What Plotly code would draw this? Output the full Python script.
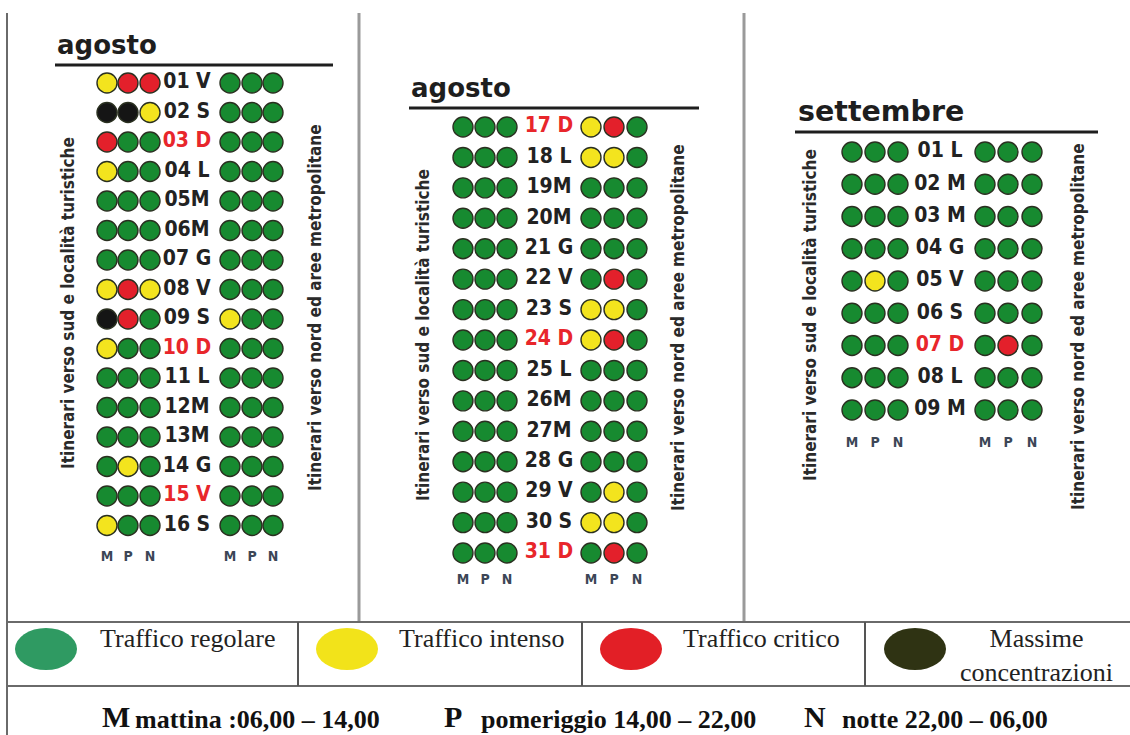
import plotly.graph_objects as go

# ---------------- DATA ----------------
# status codes: R = regolare, I = intenso, C = critico, X = massime concentrazioni
# each string = M, P, N (mattina, pomeriggio, notte)
aug1_labels = ["01 V", "02 S", "03 D", "04 L", "05M", "06M", "07 G", "08 V",
               "09 S", "10 D", "11 L", "12M", "13M", "14 G", "15 V", "16 S"]
aug1_south = ["ICC", "XXI", "CRR", "IRR", "RRR", "RRR", "RRR", "ICI",
              "XCR", "IRR", "RRR", "RRR", "RRR", "RIR", "RRR", "IRR"]
aug1_north = ["RRR", "RRR", "RRR", "RRR", "RRR", "RRR", "RRR", "RRR",
              "IRR", "RRR", "RRR", "RRR", "RRR", "RRR", "RRR", "RRR"]
aug1_holiday = [0, 0, 1, 0, 0, 0, 0, 0, 0, 1, 0, 0, 0, 0, 1, 0]

aug2_labels = ["17 D", "18 L", "19M", "20M", "21 G", "22 V", "23 S", "24 D",
               "25 L", "26M", "27M", "28 G", "29 V", "30 S", "31 D"]
aug2_south = ["RRR"] * 15
aug2_north = ["ICR", "IIR", "RRR", "RRR", "RRR", "RCR", "IIR", "ICR",
              "RRR", "RRR", "RRR", "RRR", "RIR", "IIR", "RCR"]
aug2_holiday = [1, 0, 0, 0, 0, 0, 0, 1, 0, 0, 0, 0, 0, 0, 1]

sep_labels = ["01 L", "02 M", "03 M", "04 G", "05 V", "06 S", "07 D", "08 L", "09 M"]
sep_south = ["RRR", "RRR", "RRR", "RRR", "RIR", "RRR", "RRR", "RRR", "RRR"]
sep_north = ["RRR", "RRR", "RRR", "RRR", "RRR", "RRR", "RCR", "RRR", "RRR"]
sep_holiday = [0, 0, 0, 0, 0, 0, 1, 0, 0]

month_titles = ["agosto", "agosto", "settembre"]
periods = ["M", "P", "N"]
south_text = "Itinerari verso sud e località turistiche"
north_text = "Itinerari verso nord ed aree metropolitane"

legend_codes = ["R", "I", "C", "X"]
legend_labels = ["Traffico regolare", "Traffico intenso", "Traffico critico",
                 "Massime<br>concentrazioni"]
period_desc = ["mattina :06,00 – 14,00", "pomeriggio 14,00 – 22,00", "notte 22,00 – 06,00"]

# ---------------- STYLE ----------------
dot_colors = {"R": "#178a30", "I": "#f3e41e", "C": "#e3202b", "X": "#151515"}
legend_colors = {"R": "#2f9a62", "I": "#f2e31a", "C": "#e21f26", "X": "#2f3313"}
COND = "DejaVu Sans Condensed, Liberation Sans Narrow, Arial Narrow, sans-serif"
SERIF = "Liberation Serif, Times New Roman, serif"
DARK = "#222222"
RED = "#e8262b"

panels = [
    dict(labels=aug1_labels, south=aug1_south, north=aug1_north, hol=aug1_holiday,
         sx=[107, 128, 150], lx=187, nx=[230, 252, 273], y0=83, dy=29.5, mpn_y=557,
         tx=55, ty=45, tsize=26, ul=(55, 333, 65), vl=(68, 303), vr=(315, 308)),
    dict(labels=aug2_labels, south=aug2_south, north=aug2_north, hol=aug2_holiday,
         sx=[463, 485, 507], lx=549, nx=[591, 614, 637], y0=127, dy=30.43, mpn_y=580,
         tx=409, ty=88, tsize=26, ul=(409, 699, 108), vl=(423, 335), vr=(678, 328)),
    dict(labels=sep_labels, south=sep_south, north=sep_north, hol=sep_holiday,
         sx=[852, 875, 898], lx=940, nx=[985, 1008, 1032], y0=152, dy=32.25, mpn_y=443,
         tx=796, ty=111, tsize=28.5, ul=(795, 1098, 132), vl=(810, 315), vr=(1078, 327)),
]

fig = go.Figure()
annotations = []
shapes = []

for p, title in zip(panels, month_titles):
    xs, ys, cs = [], [], []
    for i, (s, n) in enumerate(zip(p["south"], p["north"])):
        y = p["y0"] + i * p["dy"]
        for k in range(3):
            xs.append(p["sx"][k]); ys.append(y); cs.append(dot_colors[s[k]])
            xs.append(p["nx"][k]); ys.append(y); cs.append(dot_colors[n[k]])
    fig.add_trace(go.Scatter(
        x=xs, y=ys, mode="markers", hoverinfo="skip", showlegend=False,
        marker=dict(size=20, color=cs, line=dict(color="#2a3020", width=1.4))))
    # day labels
    ly = [p["y0"] + i * p["dy"] for i in range(len(p["labels"]))]
    fig.add_trace(go.Scatter(
        x=[p["lx"]] * len(ly), y=ly, mode="text", text=p["labels"],
        textposition="middle center", hoverinfo="skip", showlegend=False,
        textfont=dict(family=COND, size=21, weight="bold",
                      color=[RED if h else DARK for h in p["hol"]])))
    # M P N
    fig.add_trace(go.Scatter(
        x=p["sx"] + p["nx"], y=[p["mpn_y"]] * 6, mode="text", text=periods * 2,
        textposition="middle center", hoverinfo="skip", showlegend=False,
        textfont=dict(family=COND, size=14, weight="bold", color="#3c4656")))
    # title
    annotations.append(dict(x=p["tx"], y=p["ty"], text="<b>" + title + "</b>", showarrow=False,
                            xanchor="left", yanchor="middle",
                            font=dict(family="DejaVu Sans, sans-serif", size=p["tsize"], color="#1e1e1e")))
    x0, x1, yu = p["ul"]
    shapes.append(dict(type="line", x0=x0, x1=x1, y0=yu, y1=yu,
                       line=dict(color="#1e1e1e", width=3)))
    annotations.append(dict(x=p["vl"][0], y=p["vl"][1], text=south_text, textangle=-90,
                            showarrow=False, xanchor="center", yanchor="middle",
                            font=dict(family=COND, size=17, weight="bold", color="#2a2a2a")))
    annotations.append(dict(x=p["vr"][0], y=p["vr"][1], text=north_text, textangle=-90,
                            showarrow=False, xanchor="center", yanchor="middle",
                            font=dict(family=COND, size=17, weight="bold", color="#2a2a2a")))

# frame lines
frame = "#6a6a6a"
shapes += [
    dict(type="line", x0=7, x1=7, y0=13, y1=735, line=dict(color=frame, width=2)),
    dict(type="line", x0=359, x1=359, y0=13, y1=622, line=dict(color="#9a9a9a", width=3)),
    dict(type="line", x0=744, x1=744, y0=13, y1=622, line=dict(color="#9a9a9a", width=3)),
    dict(type="line", x0=7, x1=1130, y0=622, y1=622, line=dict(color=frame, width=2)),
    dict(type="line", x0=7, x1=1130, y0=686, y1=686, line=dict(color=frame, width=2)),
]
legend_x = [15, 316, 600, 884]
for k, (code, lab) in enumerate(zip(legend_codes, legend_labels)):
    if k > 0:
        xd = [298, 582, 865][k - 1]
        shapes.append(dict(type="line", x0=xd, x1=xd, y0=622, y1=686,
                           line=dict(color="#555555", width=2)))
    cx = legend_x[k]
    shapes.append(dict(type="circle", x0=cx, x1=cx + 62, y0=628, y1=670,
                       fillcolor=legend_colors[code], line=dict(width=0)))
legend_text_pos = [(187, 638), (481, 638), (761, 638), (1036, 655)]
for lab, (tx, ty) in zip(legend_labels, legend_text_pos):
    annotations.append(dict(x=tx, y=ty, text=lab, showarrow=False,
                            xanchor="center", yanchor="middle",
                            font=dict(family=SERIF, size=26, color="#222222")))

# bottom period description
big_x = [100, 442, 802]
small_x = [133, 479, 840]
for per, desc, bx, sx in zip(periods, period_desc, big_x, small_x):
    annotations.append(dict(x=bx, y=716, text="<b>" + per + "</b>", showarrow=False,
                            xanchor="left", yanchor="middle",
                            font=dict(family=SERIF, size=30, color="#111111")))
    annotations.append(dict(x=sx, y=719, text="<b>" + desc + "</b>", showarrow=False,
                            xanchor="left", yanchor="middle",
                            font=dict(family=SERIF, size=26, color="#111111")))

fig.update_layout(
    width=1130, height=735, margin=dict(l=0, r=0, t=0, b=0),
    paper_bgcolor="white", plot_bgcolor="white",
    xaxis=dict(range=[0, 1130], visible=False, fixedrange=True),
    yaxis=dict(range=[735, 0], visible=False, fixedrange=True),
    shapes=shapes, annotations=annotations,
)

fig.write_html("out.html", config={"displayModeBar": False},
               post_script="document.body.style.margin='0';")
